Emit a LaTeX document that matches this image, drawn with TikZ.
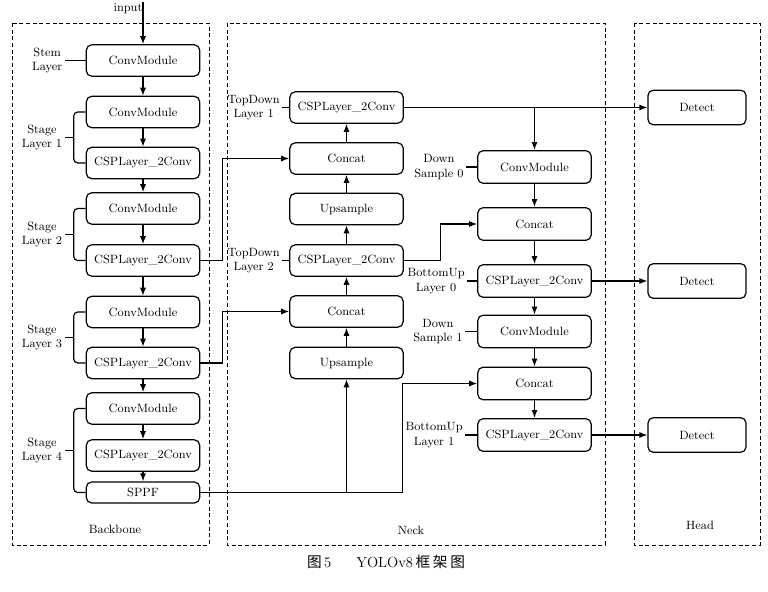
\documentclass[tikz,border=0pt]{standalone}
\usepackage{fontspec}
\newfontfamily\cjk{Noto Sans CJK SC}
\usepackage{tikz}
\usetikzlibrary{arrows.meta,positioning,calc}

\begin{document}
\begin{tikzpicture}[
      x=0.75pt, y=-0.75pt,
      block/.style={rectangle, draw, rounded corners=4pt, line width=0.9pt, minimum width=85pt, minimum height=23.5pt, font=\fontsize{9}{11}\selectfont, inner sep=1pt},
      detect/.style={block, minimum width=73.5pt, minimum height=26pt},
      tag/.style={font=\fontsize{9}{11}\selectfont, align=center, inner sep=1.5pt},
      group/.style={draw, dash pattern=on 3pt off 2pt, line width=0.6pt},
      arrow/.style={-{Latex[length=6pt,width=4.5pt]}, line width=0.9pt},
      link/.style={line width=0.9pt}
    ]
      \useasboundingbox (0,0) rectangle (768,592);

      % Groups
      \draw[group] (12,23) rectangle (209,545);
      \draw[group] (227,23) rectangle (605,545);
      \draw[group] (634,23) rectangle (760,545);
      \node[tag] (backbone) at (115,529) {Backbone};
      \node[tag] (neck) at (411,530) {Neck};
      \node[tag] (head) at (700,525) {Head};

      % Backbone
      \node[tag] (input) at (128,9) {input};
      \node[block] (stem) at (143,60.5) {ConvModule};
      \node[block] (convA) at (143,112) {ConvModule};
      \node[block] (cspA) at (143,163) {CSPLayer\_2Conv};
      \node[block] (convB) at (143,208.5) {ConvModule};
      \node[block] (cspB) at (143,260.5) {CSPLayer\_2Conv};
      \node[block] (convC) at (143,312) {ConvModule};
      \node[block] (cspC) at (143,363) {CSPLayer\_2Conv};
      \node[block] (convD) at (143,408.5) {ConvModule};
      \node[block] (cspD) at (143,455.5) {CSPLayer\_2Conv};
      \node[block, minimum height=15.75pt] (sppf) at (143,492.5) {SPPF};

      % Neck, top-down path
      \node[block] (tdcsp1) at (346.5,107.5) {CSPLayer\_2Conv};
      \node[block] (tdcat1) at (346.5,158.5) {Concat};
      \node[block] (tdup1) at (346.5,209) {Upsample};
      \node[block] (tdcsp2) at (346.5,260.5) {CSPLayer\_2Conv};
      \node[block] (tdcat2) at (346.5,311.5) {Concat};
      \node[block] (tdup2) at (346.5,363) {Upsample};

      % Neck, bottom-up path
      \node[block, minimum height=24.5pt] (down0) at (534.5,167) {ConvModule};
      \node[block, minimum height=24.5pt] (bucat0) at (534.5,224) {Concat};
      \node[block, minimum height=24.5pt] (bucsp0) at (534.5,281) {CSPLayer\_2Conv};
      \node[block, minimum height=24.5pt] (down1) at (534.5,331.5) {ConvModule};
      \node[block, minimum height=24.5pt] (bucat1) at (534.5,383.5) {Concat};
      \node[block, minimum height=24.5pt] (bucsp1) at (534.5,435) {CSPLayer\_2Conv};

      % Head
      \node[detect] (detect1) at (697,107.5) {Detect};
      \node[detect] (detect2) at (697,281) {Detect};
      \node[detect] (detect3) at (697,435) {Detect};

      % Arrows backbone
      \coordinate (inputtop) at (stem.north |- input.north);
      \draw[arrow] (inputtop) -- (stem.north);
      \draw[arrow] (stem) -- (convA);
      \draw[arrow] (convA) -- (cspA);
      \draw[arrow] (cspA) -- (convB);
      \draw[arrow] (convB) -- (cspB);
      \draw[arrow] (cspB) -- (convC);
      \draw[arrow] (convC) -- (cspC);
      \draw[arrow] (cspC) -- (convD);
      \draw[arrow] (convD) -- (cspD);
      \draw[arrow] (cspD) -- (sppf);

      % Backbone labels
      \draw[link] (stem.west) -- ++(-21,0) node[tag, left] (stemlbl) {Stem\\Layer};
      \draw[link, rounded corners=3pt] (convA.west) -- ++(-12,0) |- (cspA.west);
      \draw[link] ($(convA.west)!0.5!(cspA.west)$) ++(-12,0) -- ++(-9,0) node[tag, left] (stage1) {Stage\\Layer 1};
      \draw[link, rounded corners=3pt] (convB.west) -- ++(-12,0) |- (cspB.west);
      \draw[link] ($(convB.west)!0.5!(cspB.west)$) ++(-12,0) -- ++(-9,0) node[tag, left] (stage2) {Stage\\Layer 2};
      \draw[link, rounded corners=3pt] (convC.west) -- ++(-12,0) |- (cspC.west);
      \draw[link] ($(convC.west)!0.5!(cspC.west)$) ++(-12,0) -- ++(-9,0) node[tag, left] (stage3) {Stage\\Layer 3};
      \draw[link, rounded corners=3pt] (convD.west) -- ++(-12,0) |- (sppf.west);
      \draw[link] ($(convD.west)!0.5!(sppf.west)$) ++(-12,0) -- ++(-9,0) node[tag, left] (stage4) {Stage\\Layer 4};

      % Arrows backbone to neck
      \draw[arrow] (cspB.east) -- ++(22,0) |- (tdcat1.west);
      \draw[arrow] (cspC.east) -- ++(22,0) |- (tdcat2.west);
      \coordinate (sppfjoin) at (tdup2.south |- sppf.east);
      \draw[arrow] (sppf.east) -- ++(202,0) |- (bucat1.west);
      \draw[arrow] (sppfjoin) -- (tdup2.south);

      % Arrows top-down
      \draw[arrow] (tdup2) -- (tdcat2);
      \draw[arrow] (tdcat2) -- (tdcsp2);
      \draw[arrow] (tdcsp2) -- (tdup1);
      \draw[arrow] (tdup1) -- (tdcat1);
      \draw[arrow] (tdcat1) -- (tdcsp1);

      % Arrows bottom-up
      \coordinate (split0) at (down0.north |- tdcsp1.east);
      \draw[arrow] (split0) -- (down0.north);
      \draw[arrow] (down0) -- (bucat0);
      \draw[arrow] (bucat0) -- (bucsp0);
      \draw[arrow] (bucsp0) -- (down1);
      \draw[arrow] (down1) -- (bucat1);
      \draw[arrow] (bucat1) -- (bucsp1);
      \draw[arrow] (tdcsp2.east) -- ++(37,0) |- (bucat0.west);

      % Arrows to head
      \draw[arrow] (tdcsp1.east) -- (detect1.west);
      \draw[arrow] (bucsp0.east) -- (detect2.west);
      \draw[arrow] (bucsp1.east) -- (detect3.west);

      % Neck labels
      \draw[link] (tdcsp1.west) -- ++(-7,0) node[tag, left] (td1lbl) {TopDown\\Layer 1};
      \draw[link] (tdcsp2.west) -- ++(-7,0) node[tag, left] (td2lbl) {TopDown\\Layer 2};
      \draw[link] (down0.west) -- ++(-11,0) node[tag, left] (down0lbl) {Down\\Sample 0};
      \draw[link] (bucsp0.west) -- ++(-10,0) node[tag, left] (bu0lbl) {BottomUp\\Layer 0};
      \draw[link] (down1.west) -- ++(-12,0) node[tag, left] (down1lbl) {Down\\Sample 1};
      \draw[link] (bucsp1.west) -- ++(-12,0) node[tag, left] (bu1lbl) {BottomUp\\Layer 1};

      % Caption
      \node[font=\fontsize{11}{13}\selectfont] (caption) at (386,562) {{\cjk 图}\,5\hspace{1.7em}YOLOv8\,{\cjk 框\kern2pt 架\kern2pt 图}};
\end{tikzpicture}
\end{document}
